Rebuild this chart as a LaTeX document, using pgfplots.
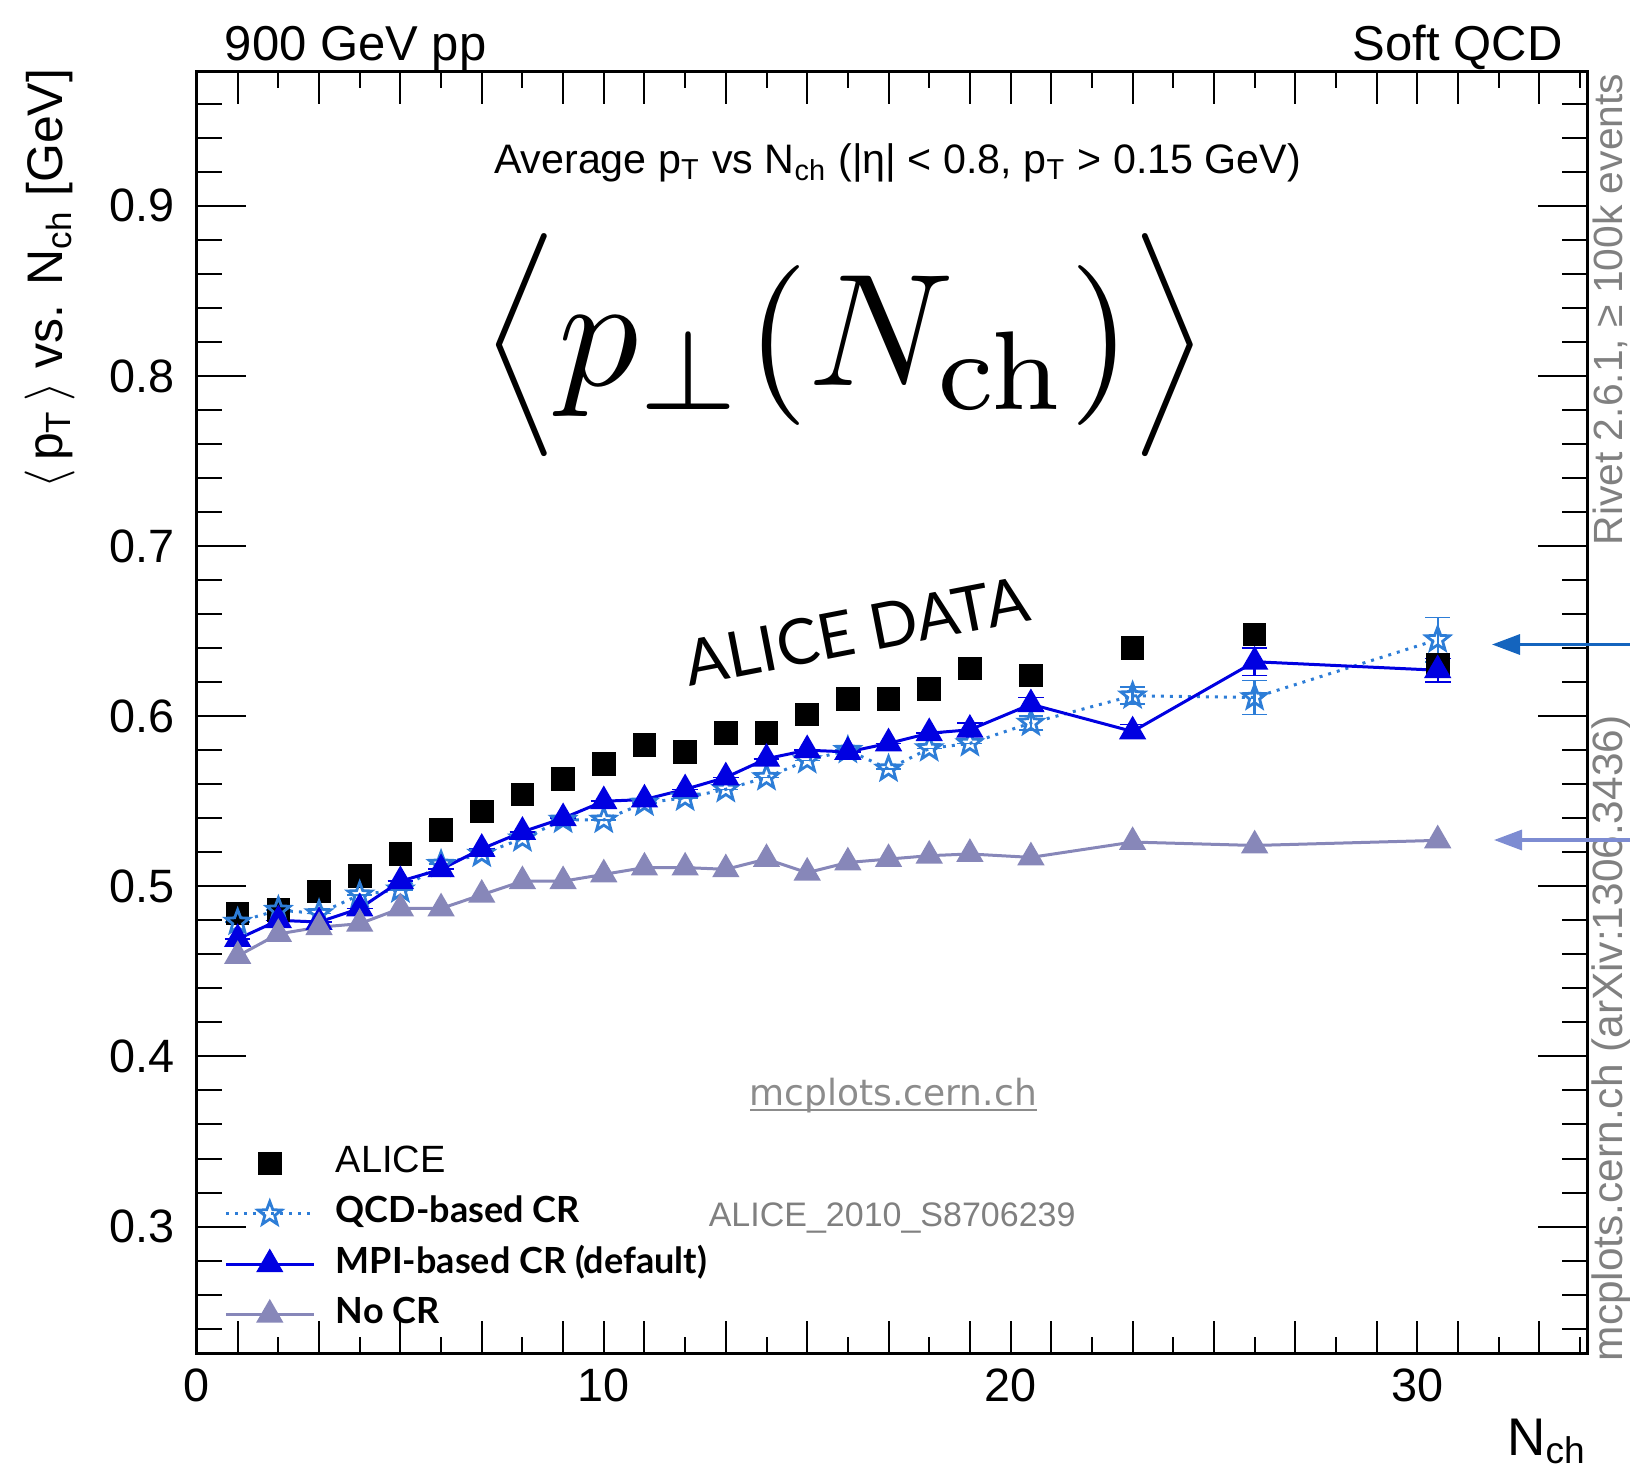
\RequirePackage{fix-cm}
\documentclass[border=0pt]{standalone}
\usepackage[no-math]{fontspec}
\setmainfont{Liberation Sans}
\newfontfamily\lato{Lato}
\newfontfamily\dejavu{DejaVu Sans}
\usepackage{pgfplots}
\pgfplotsset{compat=1.18}
\usetikzlibrary{arrows.meta}

\definecolor{qcdblue}{RGB}{45,125,215}
\definecolor{mpiblue}{RGB}{0,0,225}
\definecolor{nocr}{RGB}{135,135,185}
\definecolor{arrA}{RGB}{20,100,190}
\definecolor{arrB}{RGB}{125,140,210}

\pgfdeclareplotmark{ostar}{%
  \pgfpathmoveto{\pgfpointpolar{90}{1\pgfplotmarksize}}%
  \pgfpathlineto{\pgfpointpolar{126}{0.42\pgfplotmarksize}}%
  \pgfpathlineto{\pgfpointpolar{162}{1\pgfplotmarksize}}%
  \pgfpathlineto{\pgfpointpolar{198}{0.42\pgfplotmarksize}}%
  \pgfpathlineto{\pgfpointpolar{234}{1\pgfplotmarksize}}%
  \pgfpathlineto{\pgfpointpolar{270}{0.42\pgfplotmarksize}}%
  \pgfpathlineto{\pgfpointpolar{306}{1\pgfplotmarksize}}%
  \pgfpathlineto{\pgfpointpolar{342}{0.42\pgfplotmarksize}}%
  \pgfpathlineto{\pgfpointpolar{18}{1\pgfplotmarksize}}%
  \pgfpathlineto{\pgfpointpolar{54}{0.42\pgfplotmarksize}}%
  \pgfpathclose
  \pgfusepathqstroke
}
\newcommand\legfont{\lato\bfseries\fontsize{9}{11}\selectfont}

\begin{document}
\begin{tikzpicture}
\begin{axis}[
  at={(0,0)}, anchor=south west,
  scale only axis, width=347.6pt, height=320.4pt,
  xmin=0, xmax=34.18, ymin=0.2255, ymax=0.9788,
  axis line style={line width=0.75pt},
  tick align=inside,
  tick style={line width=0.5pt, black},
  major tick length=12.25pt, minor tick length=6.25pt,
  xtick style={/pgfplots/major tick length=8pt, /pgfplots/minor tick length=4pt},
  xtick={0,10,20,30}, xticklabels={0,10,20,30},
  minor xtick={2,4,6,8,12,14,16,18,22,24,26,28,32,34},
  extra x ticks={1,3,5,7,9,11,13,15,17,19,21,23,25,27,29,31,33},
  extra x tick labels={},
  extra x tick style={/pgfplots/major tick length=1.5pt},
  ytick={0.3,0.4,0.5,0.6,0.7,0.8,0.9},
  yticklabels={0.3,0.4,0.5,0.6,0.7,0.8,0.9},
  minor ytick={0.24,0.26,0.28,0.32,0.34,0.36,0.38,0.42,0.44,0.46,0.48,0.52,0.54,0.56,0.58,0.62,0.64,0.66,0.68,0.72,0.74,0.76,0.78,0.82,0.84,0.86,0.88,0.92,0.94,0.96},
  tick label style={font=\fontsize{11.7}{14}\selectfont},
  xticklabel style={inner sep=0pt, yshift=-3.65pt},
  yticklabel style={inner sep=0pt, xshift=-5.5pt},
  /pgf/number format/assume math mode=true,
  legend image code/.code={\draw[mark repeat=2,mark phase=2,#1] plot coordinates {(0pt,0pt) (11pt,0pt) (22pt,0pt)};},
  legend style={draw=none, fill=none, at={(axis cs:0.651,0.3487)}, anchor=north west,
    inner sep=0pt, row sep=3.1pt, column sep=5.15pt,
    nodes={inner sep=0pt, text height=7pt, text depth=2.5pt}},
  legend cell align=left,
]
\addplot[only marks, mark=square*, mark size=2.75pt, black] coordinates {
(1,0.484) (2,0.486) (3,0.497) (4,0.506) (5,0.519) (6,0.533) (7,0.544) (8,0.554)
(9,0.563) (10,0.572) (11,0.583) (12,0.579) (13,0.590) (14,0.590) (15,0.601) (16,0.610)
(17,0.610) (18,0.616) (19,0.628) (20.5,0.624) (23,0.640) (26,0.648) (30.5,0.630)};
\addplot[qcdblue, line width=0.75pt, dash pattern=on 0.75pt off 1.5pt, mark=ostar, mark size=3.1pt,
  mark options={solid, line width=0.7pt},
  error bars/.cd, y dir=both, y explicit, error bar style={solid, line width=0.6pt}] coordinates {
(1,0.479) +- (0,0) (2,0.486) +- (0,0) (3,0.484) +- (0,0) (4,0.495) +- (0,0) (5,0.498) +- (0,0)
(6,0.513) +- (0,0) (7,0.519) +- (0,0) (8,0.528) +- (0,0) (9,0.539) +- (0,0) (10,0.539) +- (0,0)
(11,0.549) +- (0,0) (12,0.552) +- (0,0) (13,0.557) +- (0,0) (14,0.564) +- (0,0) (15,0.574) +- (0,0)
(16,0.580) +- (0,0) (17,0.569) +- (0,0) (18,0.581) +- (0,0) (19,0.584) +- (0,0) (20.5,0.596) +- (0,0.004)
(23,0.612) +- (0,0.005) (26,0.611) +- (0,0.010) (30.5,0.645) +- (0,0.013)};
\addplot[mpiblue, line width=0.75pt, mark=triangle*, mark size=3.2pt, mark options={solid},
  error bars/.cd, y dir=both, y explicit, error bar style={line width=0.6pt}] coordinates {
(1,0.469) +- (0,0) (2,0.480) +- (0,0) (3,0.479) +- (0,0) (4,0.487) +- (0,0) (5,0.503) +- (0,0)
(6,0.510) +- (0,0) (7,0.522) +- (0,0) (8,0.532) +- (0,0) (9,0.540) +- (0,0) (10,0.550) +- (0,0)
(11,0.551) +- (0,0) (12,0.557) +- (0,0) (13,0.564) +- (0,0) (14,0.575) +- (0,0) (15,0.580) +- (0,0)
(16,0.579) +- (0,0) (17,0.584) +- (0,0) (18,0.590) +- (0,0) (19,0.592) +- (0,0.004) (20.5,0.607) +- (0,0.004)
(23,0.591) +- (0,0.004) (26,0.632) +- (0,0.008) (30.5,0.627) +- (0,0.007)};
\addplot[nocr, line width=0.75pt, mark=triangle*, mark size=3.2pt] coordinates {
(1,0.459) (2,0.472) (3,0.476) (4,0.478) (5,0.487) (6,0.487) (7,0.495) (8,0.503)
(9,0.503) (10,0.507) (11,0.511) (12,0.511) (13,0.510) (14,0.516) (15,0.508) (16,0.514)
(17,0.516) (18,0.518) (19,0.519) (20.5,0.517) (23,0.526) (26,0.524) (30.5,0.527)};
\legend{{\fontsize{9.5}{11}\selectfont ALICE},{\legfont QCD-based CR},{\legfont MPI-based CR (default)},{\legfont No CR}}
\end{axis}

\begin{scope}[x=0.25pt,y=-0.25pt,shift={(-197,-1353.3)}]
\node[anchor=base west, inner sep=0pt, font=\fontsize{12.25}{14}\selectfont] at (224,60) {900 GeV pp};
\node[anchor=base east, inner sep=0pt, font=\fontsize{12.25}{14}\selectfont] at (1563.3,60) {Soft QCD};
\node[anchor=base west, inner sep=0pt, font=\fontsize{10.3}{12}\selectfont] at (493.3,173.3)
  {Average p\textsubscript{T} vs N\textsubscript{ch} (|η| < 0.8, p\textsubscript{T} > 0.15 GeV)};
\node[rotate=90, anchor=base east, inner sep=0pt, font=\fontsize{12.5}{15}\selectfont] at (63,68)
  {$\langle$\,p\textsubscript{T}\,$\rangle$ vs. N\textsubscript{ch} [GeV]};
\node[anchor=base east, inner sep=0pt, font=\fontsize{13.25}{16}\selectfont] at (1587.5,1455) {N\textsubscript{ch}};
\node[inner sep=0pt] at (845,345.5) {\scalebox{4}{\raisebox{0.56pt}{\scalebox{0.775}{$\Big\langle$}}$p_\perp(N_{\mathrm{ch}})$\raisebox{0.56pt}{\scalebox{0.775}{$\Big\rangle$}}}};
\node[rotate=11, anchor=base west, inner sep=0pt, font=\lato\fontsize{15.8}{18}\selectfont] at (689,686.7) {ALICE DATA};
\node[anchor=base, inner sep=0pt, text=black!45, font=\dejavu\fontsize{9}{11}\selectfont] at (893.3,1105) {mcplots.cern.ch};
\draw[black!45, line width=0.5pt] (750,1110) -- (1037,1110);
\node[anchor=base west, inner sep=0pt, text=black!50, font=\fontsize{8.5}{10}\selectfont] at (708,1226.7) {ALICE\_2010\_S8706239};
\node[rotate=90, anchor=base east, inner sep=0pt, text=black!50, font=\fontsize{10.2}{12}\selectfont] at (1622,73) {Rivet 2.6.1, ≥ 100k events};
\node[rotate=90, anchor=base west, inner sep=0pt, text=black!50, font=\fontsize{10.6}{12}\selectfont] at (1622,1362) {mcplots.cern.ch (arXiv:1306.3436)};
\draw[arrA, line width=0.8pt, -{Triangle[length=7pt,width=5pt]}] (1635,644.5) -- (1492,644.5);
\draw[arrB, line width=0.8pt, -{Triangle[length=7pt,width=5pt]}] (1635,840) -- (1494,840);
\end{scope}
\pgfresetboundingbox
\path[use as bounding box] (-49.25pt,-29.675pt) rectangle (358.25pt,338.325pt);
\end{tikzpicture}
\end{document}
